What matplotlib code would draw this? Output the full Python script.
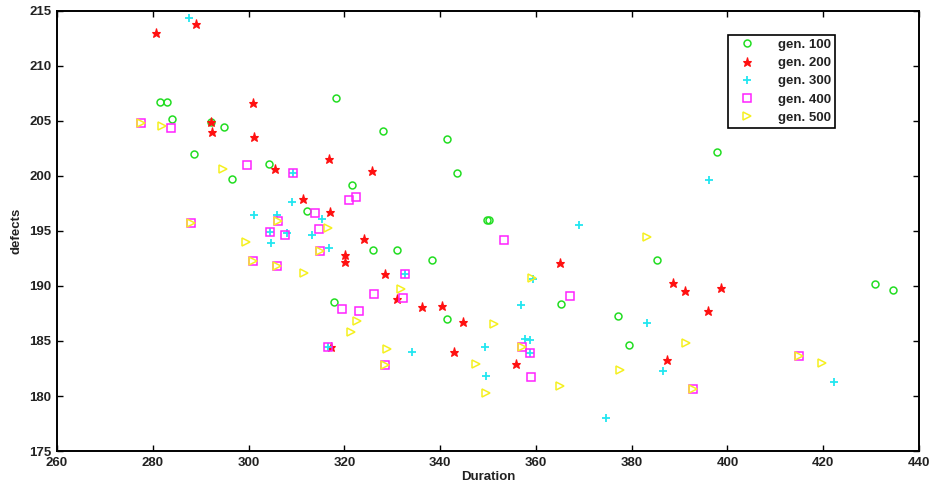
import matplotlib
matplotlib.use("Agg")
import matplotlib.pyplot as plt

plt.rcParams['font.family'] = ['Liberation Sans', 'DejaVu Sans']

# gen. 100
x100 = [281.6, 283.0, 284.1, 292.2, 294.9, 288.6, 304.2, 296.6, 312.2, 318.3,
        328.0, 341.4, 343.5, 321.5, 349.8, 350.2, 326.0, 330.9, 338.2, 317.8,
        341.5, 365.3, 377.2, 379.5, 385.3, 397.9, 430.9, 434.5]
y100 = [206.7, 206.7, 205.2, 204.9, 204.4, 202.0, 201.1, 199.7, 196.8, 207.1,
        204.1, 203.3, 200.3, 199.2, 196.0, 196.0, 193.3, 193.3, 192.4, 188.5,
        187.0, 188.4, 187.3, 184.6, 192.4, 202.2, 190.2, 189.6]

# gen. 200
x200 = [280.6, 289.1, 301.0, 292.2, 292.4, 301.1, 305.6, 311.3, 316.9, 325.7,
        317.1, 324.2, 320.1, 320.1, 328.4, 331.0, 336.2, 340.4, 344.7, 317.2,
        342.9, 355.9, 365.0, 388.6, 391.1, 398.6, 395.9, 387.4]
y200 = [213.0, 213.8, 206.6, 204.9, 204.0, 203.5, 200.6, 197.9, 201.5, 200.4,
        196.7, 194.3, 192.8, 192.2, 191.1, 188.8, 188.1, 188.2, 186.7, 184.5,
        184.0, 182.9, 192.1, 190.3, 189.5, 189.8, 187.7, 183.3]

# gen. 300
x300 = [287.5, 309.0, 301.2, 306.0, 315.3, 304.5, 308.1, 313.3, 304.7, 316.7,
        309.3, 332.6, 316.6, 334.1, 349.3, 349.5, 359.3, 356.8, 357.7, 358.8,
        358.7, 369.1, 374.7, 383.2, 386.5, 396.2, 422.3]
y300 = [214.3, 197.6, 196.4, 196.4, 196.1, 194.9, 194.8, 194.6, 193.9, 193.4,
        200.3, 191.1, 184.5, 184.0, 184.5, 181.8, 190.6, 188.3, 185.2, 185.1,
        183.9, 195.5, 178.0, 186.6, 182.3, 199.6, 181.3]

# gen. 400
x400 = [277.6, 283.9, 288.0, 299.7, 309.3, 304.4, 307.6, 301.0, 306.1, 306.0,
        313.8, 314.7, 314.9, 320.9, 322.5, 332.6, 326.1, 332.3, 319.6, 323.1,
        316.6, 328.4, 353.4, 357.0, 358.7, 359.0, 367.1, 392.8, 415.0]
y400 = [204.8, 204.3, 195.7, 201.0, 200.3, 194.9, 194.6, 192.3, 195.9, 191.8,
        196.6, 195.2, 193.2, 197.8, 198.1, 191.1, 189.3, 188.9, 187.9, 187.7,
        184.5, 182.8, 194.2, 184.5, 183.9, 181.7, 189.1, 180.6, 183.6]

# gen. 500
x500 = [277.6, 282.0, 288.0, 294.6, 299.5, 301.0, 306.1, 306.0, 311.5, 314.9,
        316.5, 331.9, 322.6, 321.3, 328.9, 328.4, 347.5, 349.6, 351.3, 359.2,
        357.0, 365.0, 377.5, 383.2, 391.4, 392.8, 415.0, 419.7]
y500 = [204.8, 204.5, 195.7, 200.6, 194.0, 192.3, 195.9, 191.8, 191.2, 193.2,
        195.3, 189.7, 186.8, 185.8, 184.3, 182.8, 182.9, 180.3, 186.5, 190.7,
        184.5, 180.9, 182.4, 194.4, 184.8, 180.6, 183.6, 183.0]

fig = plt.figure(figsize=(9.34, 4.83), dpi=100)
ax = fig.add_axes([0.061, 0.066, 0.923, 0.912])

ax.plot(x100, y100, 'o', ls='none', mfc='none', mec='#22dd22', ms=5, mew=1.1, label='gen. 100')
ax.plot(x200, y200, '*', ls='none', color='#ff1010', ms=6.5, mew=0.8, label='gen. 200')
ax.plot(x300, y300, '+', ls='none', color='#22e6f0', ms=6, mew=1.3, label='gen. 300')
ax.plot(x400, y400, 's', ls='none', mfc='none', mec='#ff22ff', ms=5.5, mew=1.1, label='gen. 400')
ax.plot(x500, y500, '>', ls='none', mfc='none', mec='#f5f020', ms=6, mew=1.1, label='gen. 500')

ax.set_xlim(260, 440)
ax.set_ylim(175, 215)
ax.set_xticks(range(260, 441, 20))
ax.set_yticks(range(175, 216, 5))
ax.tick_params(direction='in', length=4, width=1, top=True, right=True,
               labelsize=9.5, pad=4, labelcolor='#222222')
for lab in ax.get_xticklabels() + ax.get_yticklabels():
    lab.set_fontweight('bold')
for s in ax.spines.values():
    s.set_linewidth(1.4)

ax.set_xlabel('Duration', fontsize=9.5, fontweight='bold', labelpad=2, color='#222222')
ax.set_ylabel('defects', fontsize=9.5, fontweight='bold', labelpad=5, color='#222222')

leg = ax.legend(loc='upper right', bbox_to_anchor=(0.903, 0.945), fancybox=False,
                edgecolor='black', framealpha=1, prop={'size': 9.5, 'weight': 'bold'},
                handletextpad=1.3, borderpad=0.3, labelspacing=0.45, handlelength=2.2,
                borderaxespad=0)
leg.get_frame().set_linewidth(1.2)
for t in leg.get_texts():
    t.set_color('#222222')

fig.savefig('out.png', dpi=100)
